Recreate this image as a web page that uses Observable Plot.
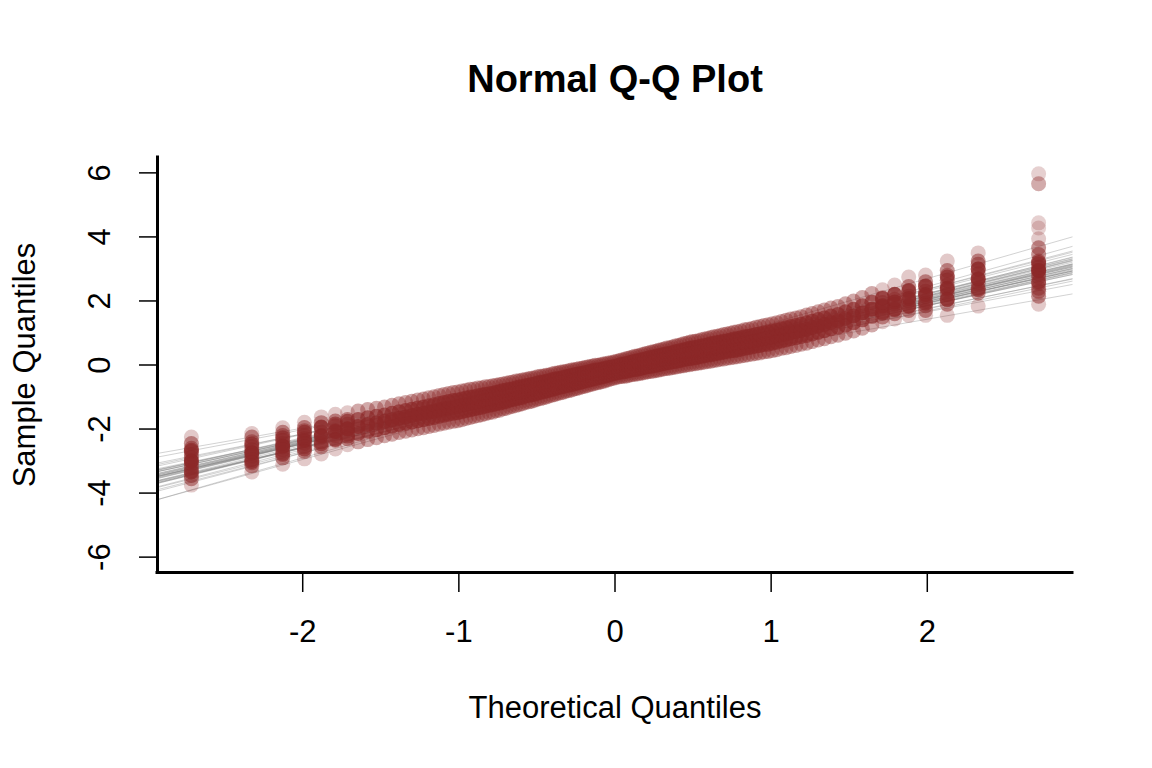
<!DOCTYPE html>
<html><head><meta charset="utf-8">
<script src="https://cdn.jsdelivr.net/npm/d3@7"></script>
<script src="https://cdn.jsdelivr.net/npm/@observablehq/plot@0.6"></script>
<style>html,body{margin:0;padding:0;background:#fff;} #chart svg{display:block;}</style>
</head><body><div id="chart"></div>
<script>
const title = "Normal Q-Q Plot";
const xLabel = "Theoretical Quantiles";
const yLabel = "Sample Quantiles";
const xTicks = [-2, -1, 0, 1, 2];
const yTicks = [-6, -4, -2, 0, 2, 4, 6];
const xDomain = [-2.93, 2.93];
const yDomain = [-6.48, 6.48];

// theoretical normal quantiles of the 150 order statistics
const theoretical = [
-2.713,-2.326,-2.128,-1.989,-1.881,-1.791,-1.713,-1.645,-1.584,-1.528,
-1.476,-1.428,-1.383,-1.341,-1.301,-1.263,-1.227,-1.192,-1.159,-1.126,
-1.096,-1.066,-1.036,-1.008,-0.981,-0.954,-0.928,-0.903,-0.878,-0.853,
-0.830,-0.806,-0.783,-0.761,-0.739,-0.717,-0.696,-0.674,-0.654,-0.633,
-0.613,-0.593,-0.573,-0.553,-0.534,-0.515,-0.496,-0.477,-0.458,-0.440,
-0.422,-0.403,-0.385,-0.367,-0.350,-0.332,-0.314,-0.297,-0.279,-0.262,
-0.245,-0.228,-0.210,-0.193,-0.176,-0.159,-0.143,-0.126,-0.109,-0.092,
-0.075,-0.059,-0.042,-0.025,-0.008,
0.008,0.025,0.042,0.059,0.075,0.092,0.109,0.126,0.143,0.159,
0.176,0.193,0.210,0.228,0.245,0.262,0.279,0.297,0.314,0.332,
0.350,0.367,0.385,0.403,0.422,0.440,0.458,0.477,0.496,0.515,
0.534,0.553,0.573,0.593,0.613,0.633,0.654,0.674,0.696,0.717,
0.739,0.761,0.783,0.806,0.830,0.853,0.878,0.903,0.928,0.954,
0.981,1.008,1.036,1.066,1.096,1.126,1.159,1.192,1.227,1.263,
1.301,1.341,1.383,1.428,1.476,1.528,1.584,1.645,1.713,1.791,
1.881,1.989,2.128,2.326,2.713];

// sample quantiles across the simulated samples, per theoretical quantile
const qMin = [
-3.75,-3.34,-3.10,-2.93,-2.78,-2.62,-2.49,-2.40,-2.33,-2.27,
-2.21,-2.16,-2.11,-2.07,-2.03,-1.99,-1.96,-1.92,-1.89,-1.85,
-1.82,-1.79,-1.76,-1.74,-1.71,-1.67,-1.64,-1.61,-1.58,-1.55,
-1.52,-1.49,-1.47,-1.43,-1.41,-1.37,-1.35,-1.31,-1.29,-1.26,
-1.23,-1.21,-1.17,-1.15,-1.13,-1.10,-1.07,-1.05,-1.02,-1.00,
-0.97,-0.94,-0.92,-0.89,-0.87,-0.85,-0.82,-0.80,-0.78,-0.75,
-0.73,-0.71,-0.68,-0.66,-0.64,-0.61,-0.59,-0.57,-0.55,-0.53,
-0.51,-0.48,-0.46,-0.43,-0.41,-0.39,-0.37,-0.36,-0.35,-0.34,
-0.32,-0.30,-0.29,-0.28,-0.26,-0.25,-0.23,-0.21,-0.20,-0.19,
-0.17,-0.16,-0.14,-0.12,-0.11,-0.10,-0.08,-0.07,-0.05,-0.03,
-0.02,0.00,0.01,0.03,0.04,0.06,0.07,0.09,0.11,0.12,
0.14,0.16,0.18,0.19,0.21,0.23,0.24,0.26,0.28,0.30,
0.32,0.34,0.36,0.38,0.41,0.42,0.45,0.48,0.52,0.54,
0.58,0.61,0.65,0.68,0.73,0.78,0.82,0.88,0.93,0.99,
1.06,1.15,1.25,1.35,1.44,1.55,1.55,1.55,1.84,1.90];
const q25 = [
-3.34,-3.01,-2.79,-2.62,-2.46,-2.32,-2.22,-2.14,-2.07,-2.02,
-1.96,-1.91,-1.86,-1.82,-1.78,-1.74,-1.71,-1.67,-1.64,-1.60,
-1.57,-1.54,-1.51,-1.49,-1.46,-1.43,-1.40,-1.37,-1.34,-1.32,
-1.29,-1.26,-1.24,-1.21,-1.19,-1.16,-1.14,-1.10,-1.08,-1.05,
-1.03,-1.01,-0.97,-0.95,-0.93,-0.91,-0.88,-0.86,-0.83,-0.81,
-0.79,-0.76,-0.74,-0.71,-0.69,-0.67,-0.65,-0.63,-0.61,-0.59,
-0.57,-0.55,-0.52,-0.50,-0.48,-0.46,-0.44,-0.42,-0.40,-0.38,
-0.36,-0.34,-0.32,-0.29,-0.27,-0.25,-0.23,-0.22,-0.21,-0.19,
-0.17,-0.15,-0.14,-0.13,-0.11,-0.09,-0.07,-0.05,-0.04,-0.03,
-0.01,0.01,0.03,0.05,0.07,0.08,0.10,0.11,0.13,0.15,
0.17,0.19,0.20,0.22,0.23,0.25,0.27,0.29,0.31,0.32,
0.34,0.36,0.38,0.40,0.42,0.44,0.45,0.47,0.49,0.52,
0.54,0.56,0.59,0.61,0.64,0.65,0.68,0.71,0.75,0.78,
0.82,0.85,0.89,0.92,0.97,1.02,1.07,1.13,1.18,1.24,
1.32,1.41,1.52,1.62,1.73,1.83,1.93,2.05,2.35,2.60];
const q50 = [
-3.00,-2.74,-2.53,-2.36,-2.20,-2.08,-1.99,-1.92,-1.86,-1.81,
-1.76,-1.71,-1.66,-1.62,-1.58,-1.54,-1.51,-1.47,-1.44,-1.40,
-1.37,-1.34,-1.31,-1.29,-1.26,-1.23,-1.20,-1.18,-1.15,-1.13,
-1.10,-1.08,-1.06,-1.03,-1.01,-0.98,-0.96,-0.93,-0.91,-0.88,
-0.86,-0.84,-0.81,-0.79,-0.77,-0.75,-0.72,-0.70,-0.68,-0.66,
-0.64,-0.61,-0.59,-0.57,-0.55,-0.53,-0.51,-0.49,-0.47,-0.45,
-0.43,-0.41,-0.39,-0.37,-0.35,-0.33,-0.31,-0.29,-0.28,-0.26,
-0.24,-0.22,-0.20,-0.18,-0.16,-0.14,-0.12,-0.10,-0.09,-0.07,
-0.05,-0.03,-0.01,0.00,0.02,0.04,0.06,0.08,0.10,0.11,
0.13,0.15,0.17,0.19,0.21,0.22,0.24,0.26,0.28,0.30,
0.32,0.34,0.36,0.38,0.39,0.41,0.43,0.45,0.47,0.49,
0.51,0.53,0.55,0.57,0.59,0.61,0.63,0.65,0.67,0.70,
0.72,0.74,0.77,0.79,0.82,0.84,0.87,0.90,0.94,0.97,
1.01,1.04,1.08,1.12,1.17,1.22,1.27,1.33,1.38,1.45,
1.53,1.63,1.74,1.85,1.97,2.08,2.20,2.40,2.68,2.95];
const q75 = [
-2.66,-2.47,-2.27,-2.10,-1.94,-1.84,-1.76,-1.70,-1.65,-1.60,
-1.56,-1.51,-1.46,-1.42,-1.38,-1.34,-1.31,-1.27,-1.24,-1.20,
-1.17,-1.14,-1.11,-1.09,-1.06,-1.03,-1.00,-0.99,-0.96,-0.94,
-0.91,-0.90,-0.88,-0.85,-0.83,-0.80,-0.78,-0.76,-0.74,-0.71,
-0.69,-0.67,-0.65,-0.63,-0.61,-0.59,-0.56,-0.54,-0.53,-0.51,
-0.49,-0.46,-0.44,-0.43,-0.41,-0.39,-0.37,-0.35,-0.33,-0.31,
-0.29,-0.27,-0.26,-0.24,-0.22,-0.20,-0.18,-0.16,-0.16,-0.14,
-0.12,-0.10,-0.08,-0.07,-0.05,-0.03,-0.01,0.02,0.03,0.05,
0.07,0.09,0.12,0.13,0.15,0.17,0.19,0.21,0.24,0.25,
0.27,0.29,0.31,0.33,0.35,0.36,0.38,0.41,0.43,0.45,
0.47,0.49,0.52,0.54,0.55,0.57,0.59,0.61,0.63,0.66,
0.68,0.70,0.72,0.74,0.76,0.78,0.81,0.83,0.85,0.88,
0.90,0.92,0.95,0.97,1.00,1.03,1.06,1.09,1.13,1.16,
1.20,1.23,1.27,1.32,1.37,1.42,1.47,1.53,1.58,1.66,
1.74,1.85,1.96,2.08,2.21,2.33,2.47,2.75,3.00,3.20];
const qMax = [
-2.25,-2.14,-1.96,-1.79,-1.62,-1.54,-1.49,-1.44,-1.39,-1.35,
-1.31,-1.26,-1.21,-1.17,-1.13,-1.09,-1.06,-1.02,-0.99,-0.95,
-0.92,-0.89,-0.86,-0.84,-0.81,-0.79,-0.76,-0.75,-0.72,-0.71,
-0.68,-0.67,-0.65,-0.63,-0.61,-0.59,-0.57,-0.55,-0.53,-0.50,
-0.49,-0.47,-0.45,-0.43,-0.41,-0.40,-0.37,-0.35,-0.34,-0.32,
-0.31,-0.28,-0.26,-0.25,-0.23,-0.21,-0.20,-0.18,-0.16,-0.15,
-0.13,-0.11,-0.10,-0.08,-0.06,-0.05,-0.03,-0.01,-0.01,0.01,
0.03,0.04,0.06,0.07,0.09,0.11,0.13,0.16,0.17,0.20,
0.22,0.24,0.27,0.28,0.30,0.33,0.35,0.37,0.40,0.41,
0.43,0.46,0.48,0.50,0.53,0.54,0.56,0.59,0.61,0.63,
0.66,0.68,0.71,0.73,0.74,0.76,0.79,0.81,0.83,0.86,
0.88,0.90,0.92,0.95,0.97,0.99,1.02,1.04,1.06,1.10,
1.12,1.14,1.18,1.20,1.23,1.26,1.29,1.32,1.36,1.40,
1.44,1.47,1.51,1.56,1.61,1.66,1.72,1.78,1.83,1.91,
2.00,2.11,2.23,2.35,2.50,2.75,2.81,3.25,3.50,3.94];

// additional individual points visible in the outer (tail) columns
const tailColumns = [0, 1, 2, 3, 4, 5, 6, 143, 144, 145, 146, 147, 148, 149];
const tailValues = [
  [-2.45,-2.6,-2.7,-2.8,-2.9,-3.0,-3.1,-3.2,-3.3,-3.45,-3.55],
  [-2.25,-2.4,-2.55,-2.65,-2.75,-2.85,-2.95,-3.05,-3.15],
  [-2.1,-2.2,-2.35,-2.45,-2.55,-2.65,-2.75,-2.9],
  [-1.95,-2.05,-2.2,-2.3,-2.45,-2.55,-2.7],
  [-1.8,-1.95,-2.1,-2.25,-2.4,-2.55],
  [-1.75,-1.9,-2.05,-2.2,-2.35],
  [-1.7,-1.85,-2.0,-2.15,-2.3],
  [1.5,1.65,1.8,1.95,2.1],
  [1.6,1.75,1.9,2.05,2.2],
  [1.7,1.85,2.0,2.15,2.3,2.45],
  [1.7,1.85,2.0,2.15,2.3,2.45,2.6],
  [1.9,2.05,2.2,2.35,2.5,2.65,2.8,2.95],
  [2.25,2.4,2.55,2.7,2.85,3.0,3.15,3.25],
  [2.15,2.3,2.4,2.55,2.75,2.85,2.95,3.05,3.15,3.25,3.45,3.66,4.28,4.44,5.66,5.66,5.97]
];

// reference lines (one per simulated sample): intercept and slope
const lineIntercept = [-0.21,-0.18,-0.25,-0.15,-0.22,-0.30,-0.12,-0.19,-0.27,-0.09,
  -0.23,-0.16,-0.33,-0.20,-0.14,-0.26,-0.05,-0.21,-0.29,-0.17,
  -0.24,-0.11,-0.19,-0.36,-0.22,-0.13,-0.28,-0.18,-0.07,-0.25,
  -0.20,-0.31,-0.15,-0.23,-0.10,-0.26,-0.19,-0.27,-0.16,-0.22];
const lineSlope = [1.10,1.14,1.05,1.18,1.12,1.08,1.22,1.09,1.16,1.03,
  1.11,1.20,1.13,1.07,1.25,1.15,1.06,1.19,1.02,1.13,
  1.09,1.17,1.28,1.11,1.04,1.14,1.21,0.92,1.10,1.35,
  1.12,1.00,1.16,1.08,1.40,1.24,0.98,0.85,1.11,1.06];

// overlap density of each rank (how many samples stack there) -> opacity
const rankOpacity = [0.4, 0.65, 0.8, 0.65, 0.4];
const points = [];
theoretical.forEach((q, i) => {
  const isTail = tailColumns.includes(i);
  [qMin, q25, q50, q75, qMax].forEach((arr, r) => points.push({
    x: q, y: arr[i], o: isTail && (r === 0 || r === 4) ? 0.25 : rankOpacity[r]
  }));
});
tailColumns.forEach((c, k) => tailValues[k].forEach(v => points.push({x: theoretical[c], y: v, o: v > 4 ? 0.22 : 0.5})));
const lines = lineIntercept.map((a, i) => ({a, b: lineSlope[i]}));

const font = "'Liberation Sans', Arial, Helvetica, sans-serif";
const chart = Plot.plot({
  width: 1152, height: 768,
  marginLeft: 157, marginRight: 80, marginTop: 157, marginBottom: 196,
  style: {fontFamily: font, background: "white", color: "black", overflow: "visible"},
  x: {domain: xDomain, axis: null},
  y: {domain: yDomain, axis: null},
  marks: [
    Plot.link(lines, {
      x1: () => xDomain[0], x2: () => xDomain[1],
      y1: d => d.a + d.b * xDomain[0], y2: d => d.a + d.b * xDomain[1],
      stroke: "#808080", strokeOpacity: 0.45, strokeWidth: 0.8
    }),
    Plot.dot(points, {x: "x", y: "y", r: 7.5, fill: "#8C2828", fillOpacity: "o", stroke: null}),
    Plot.ruleX([xDomain[0]], {strokeWidth: 3, strokeLinecap: "square"}),
    Plot.ruleY([yDomain[0]], {strokeWidth: 3, strokeLinecap: "square"}),
    Plot.axisX(xTicks, {tickSize: 20, tickFormat: () => "", strokeWidth: 1.5, label: null}),
    Plot.axisY(yTicks, {tickSize: 18, tickFormat: () => "", strokeWidth: 1.5, label: null}),
    Plot.text(xTicks, {x: d => d, text: d => String(d), frameAnchor: "bottom", dy: 60, lineAnchor: "middle", fontSize: 31}),
    Plot.text(yTicks, {y: d => d, text: d => String(d), frameAnchor: "left", dx: -57, rotate: -90, lineAnchor: "middle", textAnchor: "middle", fontSize: 31}),
    Plot.text([xLabel], {text: d => d, frameAnchor: "bottom", dy: 136, lineAnchor: "middle", textAnchor: "middle", fontSize: 31}),
    Plot.text([yLabel], {text: d => d, frameAnchor: "left", dx: -132, rotate: -90, lineAnchor: "middle", textAnchor: "middle", fontSize: 31}),
    Plot.text([title], {text: d => d, frameAnchor: "top", dy: -78, lineAnchor: "middle", textAnchor: "middle", fontSize: 38, fontWeight: "bold"})
  ]
});
document.getElementById("chart").append(chart);
</script>
</body></html>
